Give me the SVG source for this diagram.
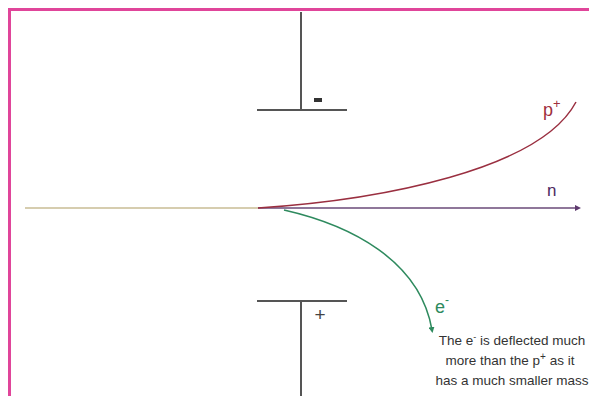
<svg xmlns="http://www.w3.org/2000/svg" width="589" height="396" viewBox="0 0 589 396">
<style>
.plate{stroke:#555;stroke-width:2;fill:none}
.lbl{font-family:"Liberation Sans",Arial,sans-serif}
.note{font-family:"Liberation Sans",Arial,sans-serif;font-size:13.5px;fill:#333;text-anchor:middle}
</style>
<defs>
<marker id="dot" viewBox="0 0 6 6" refX="3" refY="3" markerWidth="4" markerHeight="4" orient="auto"><path d="M0,0 L6,3 L0,6 Z" fill="#5e3a6e"/></marker>
<marker id="gdot" viewBox="0 0 6 6" refX="3" refY="3" markerWidth="4" markerHeight="4" orient="auto"><path d="M0,0 L6,3 L0,6 Z" fill="#2e8a5e"/></marker>
</defs>
<rect width="589" height="396" fill="#fff"/>
<path d="M9.5,396 V9.5 H589" fill="none" stroke="#e0459a" stroke-width="3"/>
<g id="top-plate">
<line class="plate" x1="301" y1="12" x2="301" y2="110"/>
<line class="plate" x1="257" y1="110" x2="347" y2="110"/>
<rect x="314" y="98" width="8" height="4" fill="#333"/>
</g>
<g id="bottom-plate">
<line class="plate" x1="257" y1="301" x2="347" y2="301"/>
<line class="plate" x1="301" y1="301" x2="301" y2="396"/>
<text class="lbl" x="320" y="321" font-size="19" fill="#444" text-anchor="middle">+</text>
</g>
<g id="connectors">
<line x1="25" y1="208" x2="258" y2="208" stroke="#c9bc94" stroke-width="1.5"/>
<line x1="258" y1="208" x2="578" y2="208" stroke="#6a4a78" stroke-width="1.5" marker-end="url(#dot)"/>
<path d="M258,208 C380,200 540,170 576,102" fill="none" stroke="#9a2f40" stroke-width="1.5"/>
<path d="M284,210 C350,225 420,260 432,330" fill="none" stroke="#2e8a5e" stroke-width="1.5" marker-end="url(#gdot)"/>
</g>
<g id="labels">
<text class="lbl" x="543" y="116" font-size="18" fill="#a0303e">p<tspan dy="-8" font-size="13">+</tspan></text>
<text class="lbl" x="547" y="196" font-size="17" fill="#4e2a62">n</text>
<text class="lbl" x="435" y="313" font-size="18" fill="#2e8a5e">e<tspan dy="-9" font-size="12">-</tspan></text>
</g>
<g id="note">
<text class="note" x="512" y="345">The e<tspan dy="-5" font-size="9">-</tspan><tspan dy="5"> is deflected much</tspan></text>
<text class="note" x="510" y="365">more than the p<tspan dy="-5" font-size="10">+</tspan><tspan dy="5"> as it</tspan></text>
<text class="note" x="512" y="385">has a much smaller mass</text>
</g>
</svg>
